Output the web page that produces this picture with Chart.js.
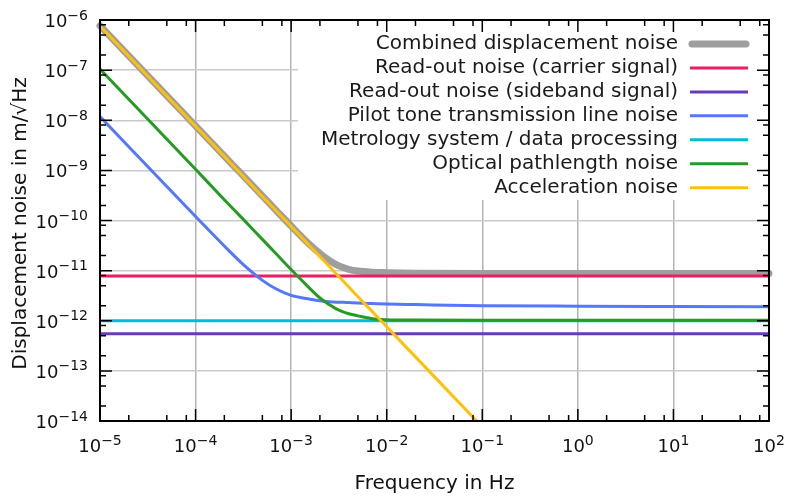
<!DOCTYPE html>
<html>
<head>
<meta charset="utf-8">
<title>Displacement noise</title>
<script src="https://cdn.jsdelivr.net/npm/chart.js@4.4.1/dist/chart.umd.min.js"></script>
<style>
  html, body { margin: 0; padding: 0; background: #fff; }
  canvas { display: block; }
</style>
</head>
<body>
<canvas id="noiseChart" width="789" height="497"></canvas>
<script>
// frequency grid (Hz) the curves were read at
const freqs = [1e-5, 1e-4, 2e-4, 3e-4, 5e-4, 7e-4, 1e-3, 1.5e-3, 2e-3, 2.5e-3, 3e-3, 3.5e-3, 4e-3, 5e-3, 7e-3, 1e-2, 2e-2, 1e-1, 1, 10, 100];
const flatFreqs = [1e-5, 100];

// values in m/sqrt(Hz)
const combinedNoise = [7.7e-7, 7.7e-9, 1.93e-9, 8.6e-10, 3.1e-10, 1.58e-10, 7.75e-11, 3.55e-11, 2.2e-11, 1.6e-11, 1.3e-11, 1.15e-11, 1.06e-11, 9.8e-12, 9.3e-12, 9.1e-12, 8.9e-12, 8.8e-12, 8.8e-12, 8.8e-12, 8.8e-12];
const carrierNoise = [7.8e-12, 7.8e-12];
const sidebandNoise = [5.5e-13, 5.5e-13];
const pilotToneNoise = [1.18e-8, 1.2e-10, 3.1e-11, 1.45e-11, 6.4e-12, 4.3e-12, 3.2e-12, 2.75e-12, 2.5e-12, 2.4e-12, 2.35e-12, 2.33e-12, 2.3e-12, 2.25e-12, 2.2e-12, 2.15e-12, 2.1e-12, 2.0e-12, 1.95e-12, 1.92e-12, 1.9e-12];
const metrologyNoise = [1.0e-12, 1.0e-12];
const pathlengthNoise = [1.05e-7, 1.05e-9, 2.6e-10, 1.17e-10, 4.2e-11, 2.15e-11, 1.05e-11, 4.8e-12, 2.85e-12, 2.1e-12, 1.7e-12, 1.5e-12, 1.38e-12, 1.25e-12, 1.1e-12, 1.05e-12, 1.03e-12, 1.02e-12, 1.02e-12, 1.02e-12, 1.02e-12];
const accelerationNoise = [7.6e-7, 7.6e-9, 1.9e-9, 8.4e-10, 3.0e-10, 1.55e-10, 7.6e-11, 3.38e-11, 1.9e-11, 1.22e-11, 8.4e-12, 6.2e-12, 4.75e-12, 3.0e-12, 1.55e-12, 7.6e-13, 1.9e-13, 7.6e-15, null, null, null];

const seriesNames = [
  'Combined displacement noise',
  'Read-out noise (carrier signal)',
  'Read-out noise (sideband signal)',
  'Pilot tone transmission line noise',
  'Metrology system / data processing',
  'Optical pathlength noise',
  'Acceleration noise'
];
const seriesColors = ['#9e9e9e', '#e91e63', '#673ab7', '#5677fc', '#00bcd4', '#259b24', '#ffc107'];

// tick labels (powers of ten)
const xExponents = [-5, -4, -3, -2, -1, 0, 1, 2];
const yExponents = [-14, -13, -12, -11, -10, -9, -8, -7, -6];
const minorSteps = [2, 5, 8];

const FONT = '"DejaVu Sans", sans-serif';

function toPoints(xs, ys) {
  return xs.map((x, i) => ({ x: x, y: ys[i] })).filter(p => p.y !== null);
}

// "10" with a raised exponent
function drawPow(ctx, exp, x, y, align) {
  const base = '10';
  const sup = String(exp).replace('-', '\u2212');
  ctx.font = '18px ' + FONT;
  const wb = ctx.measureText(base).width;
  ctx.font = '14px ' + FONT;
  const we = ctx.measureText(sup).width;
  const start = align === 'right' ? x - wb - we : x - (wb + we) / 2;
  ctx.textAlign = 'left';
  ctx.textBaseline = 'alphabetic';
  ctx.font = '18px ' + FONT;
  ctx.fillText(base, start, y);
  ctx.font = '14px ' + FONT;
  ctx.fillText(sup, start + wb, y - 7.5);
}

const plotFrame = {
  id: 'plotFrame',
  beforeDatasetsDraw(chart) {
    const { ctx, chartArea: a } = chart;
    ctx.save();
    // legend sits on a white box that hides the grid behind it
    ctx.fillStyle = '#fff';
    ctx.fillRect(298, a.top, a.right - 298, 200 - a.top);
    ctx.font = '20px ' + FONT;
    ctx.textAlign = 'right';
    ctx.textBaseline = 'middle';
    seriesNames.forEach((name, i) => {
      const y = 44 + i * 23.95;
      ctx.fillStyle = '#1a1a1a';
      ctx.fillText(name, 678, y);
      ctx.strokeStyle = seriesColors[i];
      ctx.lineCap = i === 0 ? 'round' : 'butt';
      ctx.lineWidth = i === 0 ? 7 : 3;
      ctx.beginPath();
      ctx.moveTo(i === 0 ? 692 : 690, y);
      ctx.lineTo(i === 0 ? 746 : 748, y);
      ctx.stroke();
    });
    ctx.restore();
  },
  afterDatasetsDraw(chart) {
    const { ctx, chartArea: a } = chart;
    const xs = chart.scales.x, ys = chart.scales.y;
    ctx.save();
    ctx.strokeStyle = '#000';
    ctx.lineWidth = 1.5;
    ctx.beginPath();
    // inward tick marks on all four sides
    xExponents.forEach((e, k) => {
      const px = xs.getPixelForValue(Math.pow(10, e));
      ctx.moveTo(px, a.bottom); ctx.lineTo(px, a.bottom - 12);
      ctx.moveTo(px, a.top); ctx.lineTo(px, a.top + 12);
      if (k < xExponents.length - 1) {
        minorSteps.forEach(m => {
          const mx = xs.getPixelForValue(m * Math.pow(10, e));
          ctx.moveTo(mx, a.bottom); ctx.lineTo(mx, a.bottom - 6);
          ctx.moveTo(mx, a.top); ctx.lineTo(mx, a.top + 6);
        });
      }
    });
    yExponents.forEach((e, k) => {
      const py = ys.getPixelForValue(Math.pow(10, e));
      ctx.moveTo(a.left, py); ctx.lineTo(a.left + 12, py);
      ctx.moveTo(a.right, py); ctx.lineTo(a.right - 12, py);
      if (k < yExponents.length - 1) {
        minorSteps.forEach(m => {
          const my = ys.getPixelForValue(m * Math.pow(10, e));
          ctx.moveTo(a.left, my); ctx.lineTo(a.left + 6, my);
          ctx.moveTo(a.right, my); ctx.lineTo(a.right - 6, my);
        });
      }
    });
    ctx.stroke();
    ctx.lineWidth = 2;
    ctx.strokeRect(a.left, a.top, a.right - a.left, a.bottom - a.top);

    // tick labels
    ctx.fillStyle = '#111';
    xExponents.forEach(e => drawPow(ctx, e, xs.getPixelForValue(Math.pow(10, e)), a.bottom + 31, 'center'));
    yExponents.forEach(e => drawPow(ctx, e, 88, ys.getPixelForValue(Math.pow(10, e)) + 7, 'right'));

    // axis titles
    ctx.font = '20px ' + FONT;
    ctx.textAlign = 'center';
    ctx.textBaseline = 'alphabetic';
    ctx.fillText('Frequency in Hz', (a.left + a.right) / 2, 489);
    ctx.translate(26, (a.top + a.bottom) / 2 + 3);
    ctx.rotate(-Math.PI / 2);
    ctx.fillText('Displacement noise in m/\u221AHz', 0, 0);
    ctx.restore();
  }
};

const lineDefaults = { pointRadius: 0, fill: false, cubicInterpolationMode: 'monotone', borderWidth: 3 };

new Chart(document.getElementById('noiseChart'), {
  type: 'line',
  data: {
    datasets: [
      { ...lineDefaults, label: seriesNames[0], data: toPoints(freqs, combinedNoise), borderColor: seriesColors[0], borderWidth: 7, borderCapStyle: 'round', clip: 5, order: 10 },
      { ...lineDefaults, label: seriesNames[1], data: toPoints(flatFreqs, carrierNoise), borderColor: seriesColors[1], order: 6 },
      { ...lineDefaults, label: seriesNames[2], data: toPoints(flatFreqs, sidebandNoise), borderColor: seriesColors[2], order: 5 },
      { ...lineDefaults, label: seriesNames[3], data: toPoints(freqs, pilotToneNoise), borderColor: seriesColors[3], order: 4 },
      { ...lineDefaults, label: seriesNames[4], data: toPoints(flatFreqs, metrologyNoise), borderColor: seriesColors[4], order: 3 },
      { ...lineDefaults, label: seriesNames[5], data: toPoints(freqs, pathlengthNoise), borderColor: seriesColors[5], order: 2 },
      { ...lineDefaults, label: seriesNames[6], data: toPoints(freqs, accelerationNoise), borderColor: seriesColors[6], order: 1 }
    ]
  },
  options: {
    responsive: false,
    animation: false,
    layout: { padding: { left: 100, right: 20, top: 20, bottom: 76 } },
    plugins: { legend: { display: false }, tooltip: { enabled: false } },
    scales: {
      x: {
        type: 'logarithmic', min: 1e-5, max: 100,
        afterBuildTicks: s => { s.ticks = xExponents.map(e => ({ value: Math.pow(10, e) })); },
        ticks: { display: false },
        border: { display: false },
        grid: { drawTicks: false, color: '#b4b4b4', lineWidth: 1.5 }
      },
      y: {
        type: 'logarithmic', min: 1e-14, max: 1e-6,
        afterBuildTicks: s => { s.ticks = yExponents.map(e => ({ value: Math.pow(10, e) })); },
        ticks: { display: false },
        border: { display: false },
        grid: { drawTicks: false, color: '#cacaca', lineWidth: 1.5 }
      }
    }
  },
  plugins: [plotFrame]
});
</script>
</body>
</html>
